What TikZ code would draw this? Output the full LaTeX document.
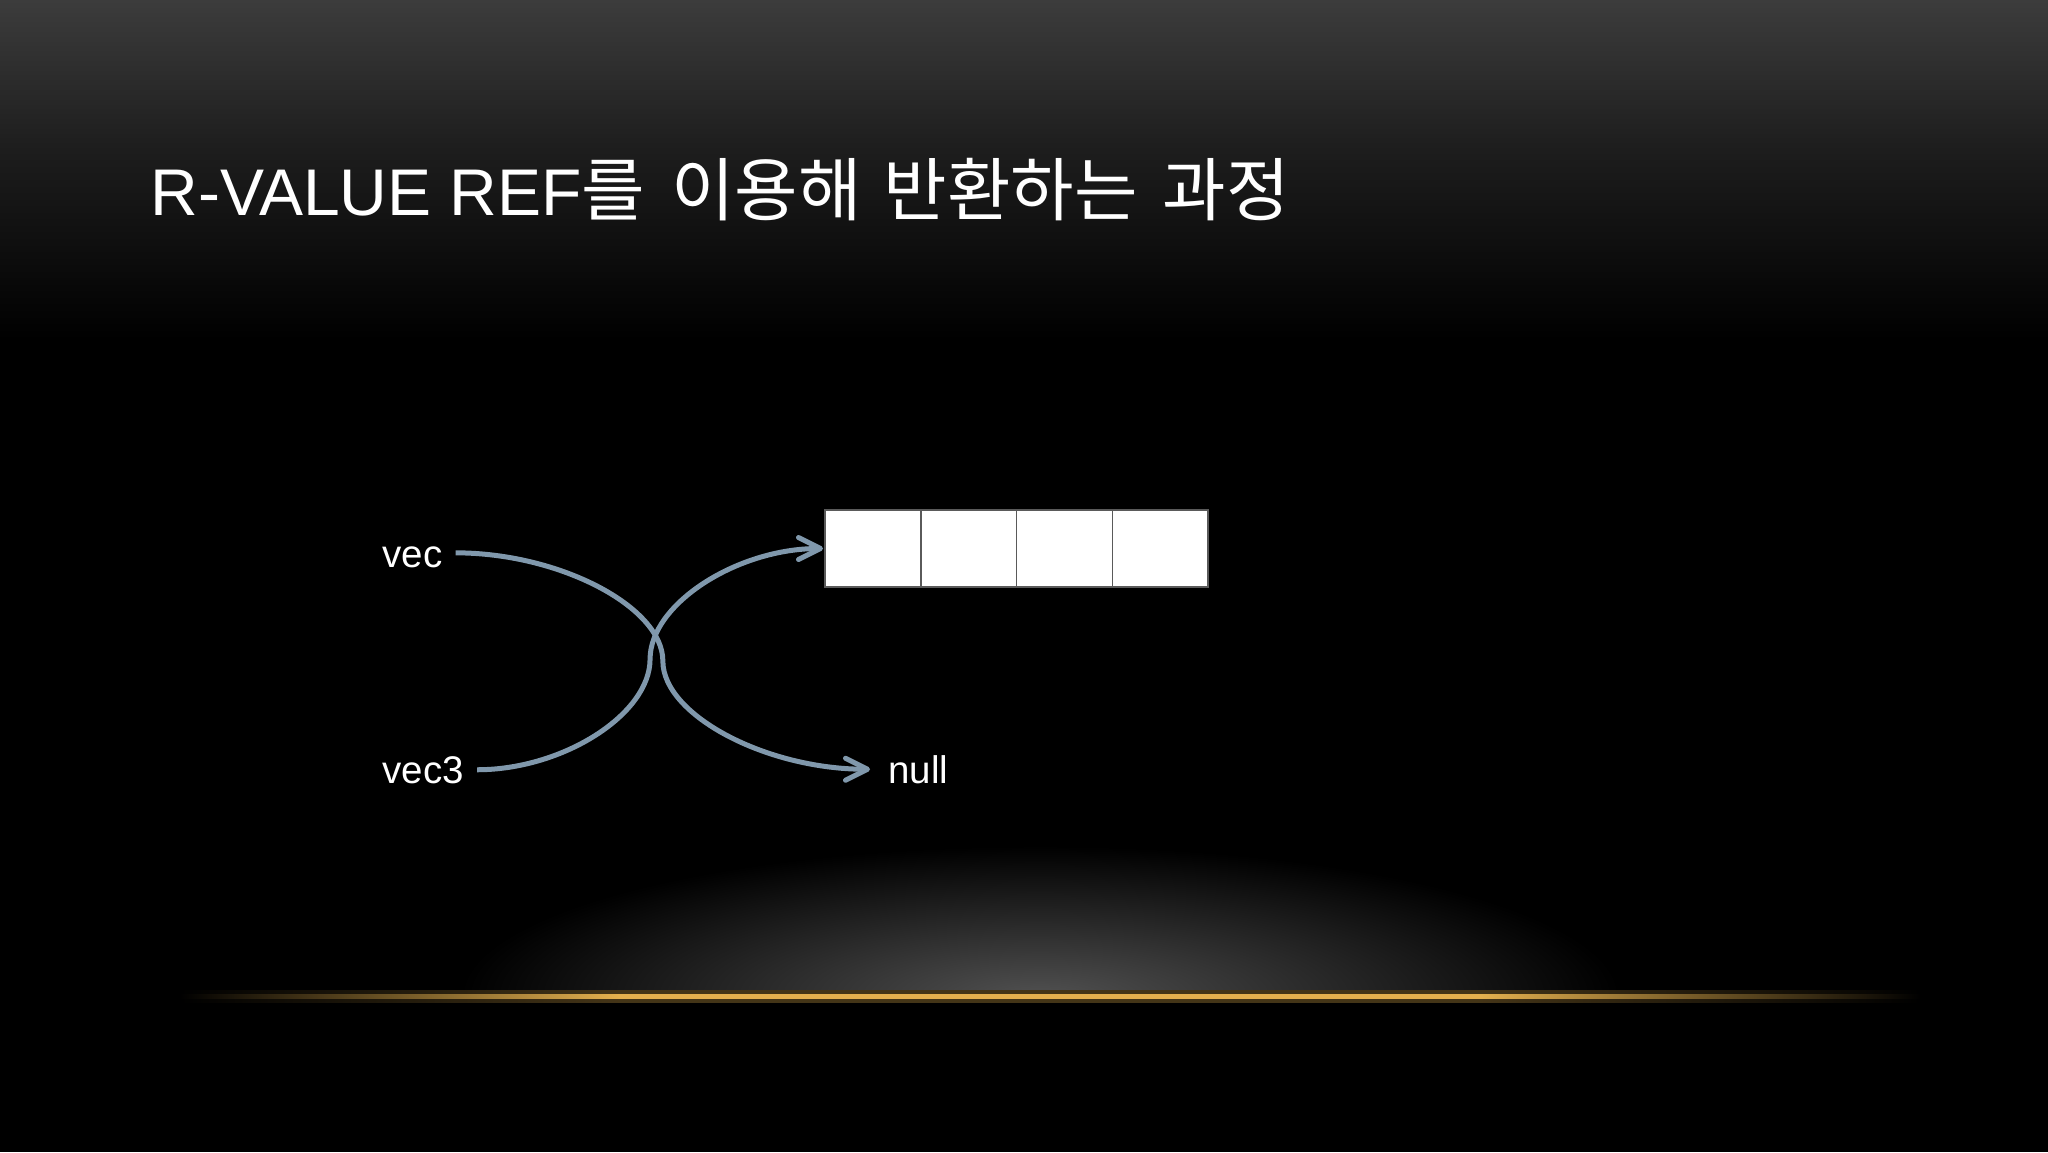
\documentclass[tikz,border=0pt]{standalone}
\usepackage{fontspec}
\setmainfont{Liberation Sans}
\newfontfamily\kr{Noto Sans CJK KR}
\usetikzlibrary{arrows.meta,calc}
\definecolor{arrowc}{RGB}{128,152,172}
\definecolor{gold}{RGB}{228,176,78}
\definecolor{topgray}{RGB}{60,60,60}
\definecolor{midgray}{RGB}{29,29,29}
\definecolor{glowgray}{RGB}{80,80,80}
\definecolor{cellborder}{RGB}{90,90,90}
\begin{document}
\begin{tikzpicture}[x=0.5pt,y=-0.5pt,
  cell/.style={draw=cellborder, fill=white, line width=0.75pt, minimum width=47.875pt, minimum height=38.5pt, inner sep=0pt, outer sep=0pt},
  lbl/.style={text=white, font=\fontsize{19.25}{23}\selectfont, inner sep=0pt, anchor=base west},
  ptr/.style={draw=arrowc, line width=2.5pt, -{Straight Barb[length=11pt,width=11pt,round]}}]
\useasboundingbox (0,0) rectangle (2048,1152);
% background
\fill[black] (0,0) rectangle (2048,1152);
\shade[top color=topgray, bottom color=midgray] (0,0) rectangle (2048,150);
\shade[top color=midgray, bottom color=black] (0,150) rectangle (2048,340);
% bottom glow
\begin{scope}
  \clip (0,0) rectangle (2048,996);
  \shade[inner color=glowgray, outer color=black] (1040,996) ellipse (580 and 150);
\end{scope}
% golden line glow
\shade[left color=black, right color=gold!30!black] (180,990) rectangle (620,1002);
\shade[left color=gold!30!black, right color=gold!30!black] (620,990) rectangle (1480,1002);
\shade[left color=gold!30!black, right color=black] (1480,990) rectangle (1920,1002);
% golden line core
\shade[left color=black, right color=gold] (180,994) rectangle (620,998);
\shade[left color=gold, middle color=gold!75!white, right color=gold] (620,994) rectangle (1480,998);
\shade[left color=gold, right color=black] (1480,994) rectangle (1920,998);
% title
\node[anchor=base west, inner sep=0pt, text=white, font=\fontsize{33}{38}\selectfont] (title) at (150,215)
  {R-VALUE REF{\kr\fontsize{34.5}{38}\selectfont 를\hspace{13pt}이용해\hspace{11pt}반환하는\hspace{12.5pt}과정}};
% cells
\node[cell, anchor=north west] (c1) at (825,510) {};
\node[cell, anchor=west] (c2) at (c1.east) {};
\node[cell, anchor=west] (c3) at (c2.east) {};
\node[cell, anchor=west] (c4) at (c3.east) {};
% labels
\node[lbl] (vec) at (382,567) {vec};
\node[lbl] (vec3) at (382,783) {vec3};
\node[lbl] (null) at (888,783) {null};
% arrows (curved connectors: two cubic halves, vertical tangent in the middle)
\draw[ptr] ([xshift=6.5pt,yshift=2pt]vec.east) coordinate (a0)
  .. controls +(104,0) and +(0,-54) .. ($(a0)!0.5!([xshift=-9pt]null.west)$)
  .. controls +(0,54) and +(-104,0) .. ([xshift=-9pt]null.west);
\draw[ptr] ([xshift=6.5pt]vec3.east) coordinate (b0)
  .. controls +(86,0) and +(0,55) .. ($(b0)!0.5!([xshift=-1pt]c1.west)$)
  .. controls +(0,-55) and +(-86,0) .. ([xshift=-1pt]c1.west);
\end{tikzpicture}
\end{document}
